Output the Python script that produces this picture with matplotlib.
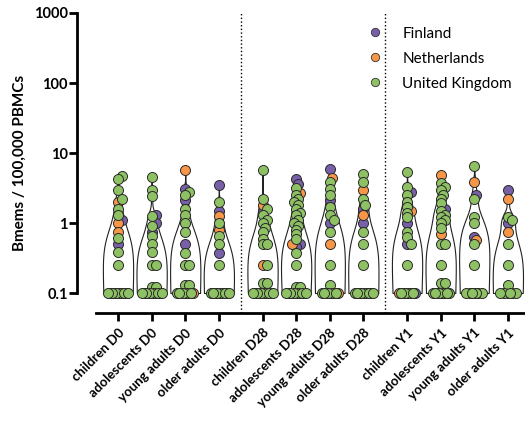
import numpy as np
import matplotlib
matplotlib.use("Agg")
import matplotlib.pyplot as plt
from matplotlib.lines import Line2D

plt.rcParams['font.family'] = ['Lato', 'DejaVu Sans']

categorias = ['children D0', 'adolescents D0', 'young adults D0', 'older adults D0',
              'children D28', 'adolescents D28', 'young adults D28', 'older adults D28',
              'children Y1', 'adolescents Y1', 'young adults Y1', 'older adults Y1']

# valores por país y grupo (0.1 = límite de detección)
finland = [
    [1.1, 0.5, 0.1, 0.1, 0.1],
    [1.3, 1.0, 0.75, 0.1, 0.1, 0.1],
    [3.1, 2.1, 0.5, 0.1, 0.1, 0.1],
    [3.5, 1.5, 0.37, 0.1, 0.1, 0.1],
    [1.5, 0.1, 0.1, 0.1],
    [4.2, 3.6, 0.5, 0.45, 0.1, 0.1, 0.1],
    [6.0, 2.1, 1.0, 0.1, 0.1, 0.1],
    [1.6, 1.0, 0.1, 0.1],
    [2.8, 1.0, 0.5, 0.1, 0.1, 0.1, 0.1],
    [1.6, 0.1],
    [2.5, 0.64, 0.1],
    [3.0, 1.0, 0.1],
]
netherlands = [
    [2.0, 1.0, 0.75, 0.1],
    [0.1, 0.1],
    [5.8, 0.1],
    [1.25, 0.8, 0.1],
    [1.8, 0.25, 0.1, 0.1],
    [2.7, 0.5, 0.1, 0.1],
    [4.4, 0.5, 0.1],
    [3.0, 1.3, 0.1],
    [1.5, 0.1],
    [4.9, 0.7, 0.1, 0.1],
    [3.9, 0.57, 0.1],
    [2.2, 0.75, 0.1],
]
uk = [
    [4.7, 4.3, 3.0, 2.2, 1.6, 1.3, 0.62, 0.38, 0.25, 0.1, 0.1, 0.1, 0.1, 0.1, 0.1, 0.1],
    [4.5, 3.0, 2.4, 1.25, 0.9, 0.65, 0.5, 0.38, 0.25, 0.25, 0.12, 0.12, 0.1, 0.1, 0.1, 0.1, 0.1, 0.1],
    [2.8, 2.5, 1.6, 1.3, 1.0, 0.75, 0.37, 0.25, 0.25, 0.13, 0.13, 0.1, 0.1, 0.1, 0.1, 0.1],
    [2.0, 1.0, 0.65, 0.5, 0.25, 0.1, 0.1, 0.1, 0.1, 0.1, 0.1],
    [5.7, 2.2, 1.6, 1.3, 1.1, 1.0, 0.85, 0.75, 0.6, 0.5, 0.5, 0.25, 0.14, 0.14,
     0.1, 0.1, 0.1, 0.1, 0.1, 0.1],
    [3.2, 2.5, 2.2, 2.0, 1.8, 1.6, 1.4, 1.3, 1.1, 1.0, 0.9, 0.8, 0.7, 0.6, 0.37, 0.25,
     0.12, 0.12, 0.1, 0.1, 0.1, 0.1, 0.1, 0.1],
    [3.9, 3.1, 2.5, 1.7, 1.3, 1.1, 0.75, 0.25, 0.13, 0.1, 0.1, 0.1, 0.1, 0.1],
    [5.0, 3.9, 2.2, 1.8, 0.75, 0.5, 0.25, 0.1, 0.1, 0.1, 0.1, 0.1, 0.1, 0.1],
    [5.3, 3.3, 2.5, 2.0, 1.7, 1.4, 1.2, 0.75, 0.64, 0.5, 0.25, 0.1, 0.1, 0.1, 0.1],
    [3.7, 3.3, 3.0, 2.5, 2.2, 1.9, 1.5, 1.3, 1.2, 1.1, 1.0, 0.85, 0.5, 0.5, 0.25,
     0.14, 0.14, 0.1, 0.1, 0.1, 0.1, 0.1, 0.1],
    [6.5, 2.2, 1.2, 1.0, 0.5, 0.25, 0.1, 0.1, 0.1, 0.1, 0.1],
    [1.2, 1.1, 0.5, 0.25, 0.13, 0.1, 0.1, 0.1, 0.1],
]

paises = ['Finland', 'Netherlands', 'United Kingdom']
colores = ['#7760A8', '#F79646', '#8DC163']

# posiciones de las categorías (tres bloques separados)
posiciones = [j + g * 4.3 for g in range(3) for j in range(4)]
separadores = [3.65, 7.95]

fig = plt.figure(figsize=(5.25, 4.24), dpi=100)
ax = fig.add_axes([96 / 525, 111 / 424, 429 / 525, 300 / 424])
ax.set_yscale('log')
ax.set_ylim(10 ** -1.2857, 1000)
ax.set_xlim(-0.655, 12.11)

px_x = 33.6   # pixeles por unidad de categoría
px_dec = 70   # pixeles por década


def violin(ax, pos, valores):
    # densidad (kernel gaussiano) sobre los valores lineales
    v = np.asarray(valores, dtype=float)
    bw = 0.6 * 1.06 * v.std() * len(v) ** -0.2
    ys = 10 ** np.linspace(np.log10(v.min()), np.log10(v.max()), 300)
    dens = np.exp(-0.5 * ((ys[:, None] - v[None, :]) / bw) ** 2).sum(axis=1)
    ancho = dens / dens.max() * 0.45
    ax.fill_betweenx(ys, pos - ancho, pos + ancho, facecolor='white',
                     edgecolor='#222222', linewidth=0.8, zorder=2)


def enjambre(valores):
    # reparte horizontalmente puntos que se solapan (en pixeles)
    ys = np.log10(valores) * px_dec
    orden = np.argsort(ys, kind='stable')
    colocados = []
    offs = np.zeros(len(valores))
    candidatos = [0]
    for k in range(1, 6):
        candidatos += [2 * k, -2 * k]
    for i in orden:
        mejor, mejor_d = 0, -1
        for c in candidatos:
            d = min([np.hypot(c - ox, ys[i] - oy) for ox, oy in colocados] or [99])
            if d >= 4.0:
                mejor = c
                break
            if d > mejor_d:
                mejor, mejor_d = c, d
        offs[i] = mejor
        colocados.append((mejor, ys[i]))
    return offs / px_x


for i, pos in enumerate(posiciones):
    todos = finland[i] + netherlands[i] + uk[i]
    violin(ax, pos, todos)
    offs = enjambre(todos)
    idx = 0
    for serie, color in zip([finland, netherlands, uk], colores):
        n = len(serie[i])
        ax.scatter(pos + offs[idx:idx + n], serie[i], s=52, color=color,
                   edgecolor='#2a2a2a', linewidth=0.7, zorder=3, clip_on=False)
        idx += n

for s in separadores:
    ax.axvline(s, color='black', linestyle=':', linewidth=1, zorder=1)

for lado in ['top', 'right']:
    ax.spines[lado].set_visible(False)
ax.spines['left'].set_position(('outward', 13.7))
ax.spines['left'].set_bounds(0.1, 1000)
ax.spines['left'].set_linewidth(2)
ax.spines['bottom'].set_linewidth(2)

ax.set_yticks([0.1, 1, 10, 100, 1000])
ax.set_yticklabels(['0.1', '1', '10', '100', '1000'], fontweight='bold', fontsize=10.5)
ax.yaxis.set_minor_locator(matplotlib.ticker.NullLocator())
ax.tick_params(axis='y', length=5.5, width=2, pad=1)
ax.set_xticks(posiciones)
ax.set_xticklabels(categorias, rotation=45, ha='right', rotation_mode='anchor',
                   fontweight='bold', fontsize=9.5)
ax.tick_params(axis='x', length=5.8, width=2, pad=4)
ax.set_ylabel('Bmems / 100,000 PBMCs', fontweight='bold', fontsize=11, labelpad=5)

manejadores = [Line2D([], [], marker='o', linestyle='', markersize=6,
                      markerfacecolor=c, markeredgecolor='#333333', markeredgewidth=0.6)
               for c in colores]
fig.legend(manejadores, paises, loc='upper left', bbox_to_anchor=(352 / 525, 1 - 13 / 424),
           frameon=False, fontsize=11, handletextpad=1.2, labelspacing=0.72,
           handlelength=1.2)

fig.savefig('out.png', dpi=100)
